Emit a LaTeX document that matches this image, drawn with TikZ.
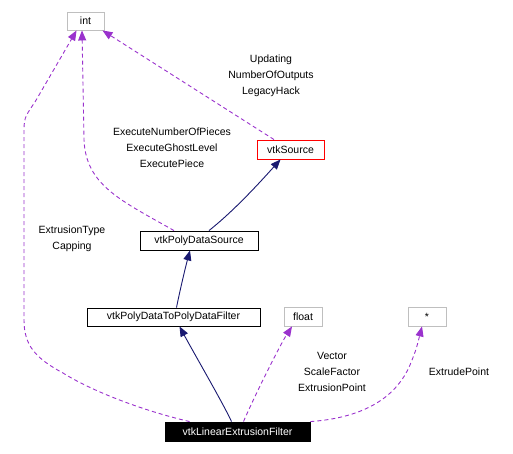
\documentclass[tikz,border=0pt]{standalone}
\usepackage{fontspec}
\setmainfont{Liberation Sans}
\usetikzlibrary{arrows.meta}
\definecolor{dpurple}{HTML}{9A32CD}
\definecolor{dnavy}{HTML}{191970}
\definecolor{dgray}{HTML}{BFBFBF}
\begin{document}
\begin{tikzpicture}[x=1pt,y=-1pt,
  font=\fontsize{10.5}{16}\selectfont,
  box/.style={draw=black,line width=0.9pt,inner sep=0pt,minimum height=19pt,anchor=center},
  graybox/.style={box,draw=dgray},
  redbox/.style={box,draw=red},
  blackbox/.style={box,fill=black,text=white},
  usage/.style={draw=dpurple,line width=0.9pt,dash pattern=on 4pt off 3pt,-{Triangle[length=10pt,width=8pt,fill=dpurple]}},
  inherit/.style={draw=dnavy,line width=0.9pt,-{Triangle[length=10pt,width=8pt,fill=dnavy]}},
  lbl/.style={inner sep=0pt,align=center}]
\useasboundingbox (0,0) rectangle (513,453);
% nodes
\node[graybox,minimum width=37pt,minimum height=18pt] (int) at (85.5,21) {int};
\node[redbox,minimum width=67pt] (src) at (290.5,149.5) {vtkSource};
\node[box,minimum width=118pt] (pds) at (199,240.5) {vtkPolyDataSource};
\node[box,minimum width=173pt,minimum height=18pt] (p2p) at (173.5,317) {vtkPolyDataToPolyDataFilter};
\node[graybox,minimum width=38pt] (float) at (303,316.5) {float};
\node[graybox,minimum width=38pt] (star) at (427,316.5) {*};
\node[blackbox,minimum width=145pt] (lef) at (237.5,431.5) {vtkLinearExtrusionFilter};
% labels
\node[lbl] (l1) at (271,76) {Updating\\NumberOfOutputs\\LegacyHack};
\node[lbl] (l2) at (172,148) {ExecuteNumberOfPieces\\ExecuteGhostLevel\\ExecutePiece};
\node[lbl] (l3) at (72,239) {ExtrusionType\\Capping};
\node[lbl] (l4) at (332,372) {Vector\\ScaleFactor\\ExtrusionPoint};
\node[lbl] (l5) at (459,372) {ExtrudePoint};
% connectors
\draw[usage] ([xshift=-16.5pt]src.north) -- ([xshift=-2pt]int.south east);
\draw[usage] ([xshift=-25pt]pds.north) .. controls (120,200) and (86,185) .. (84,140) -- ([xshift=-3.5pt]int.south);
\draw[usage] ([xshift=25pt]lef.north west) .. controls (140,410) and (90,390) .. (63,373)
   .. controls (35,358) and (24,345) .. (24,320) -- (24,135) .. controls (24,118) .. (35,102) -- ([xshift=10pt]int.south west);
\draw[inherit] ([xshift=10pt]pds.north) .. controls (235,210) and (262,180) .. ([xshift=-10pt]src.south);
\draw[inherit] ([xshift=3pt]p2p.north) .. controls (180,290) and (186,265) .. ([xshift=-9pt]pds.south);
\draw[inherit] ([xshift=-6pt]lef.north) .. controls (224,405) and (195,355) .. ([xshift=6pt]p2p.south);
\draw[usage] ([xshift=6pt]lef.north) .. controls (255,395) and (280,345) .. ([xshift=-11pt]float.south);
\draw[usage] (lef.north east) .. controls (360,418) and (395,400) .. (410,365) .. controls (416,350) .. ([xshift=-5pt]star.south);
\end{tikzpicture}
\end{document}
